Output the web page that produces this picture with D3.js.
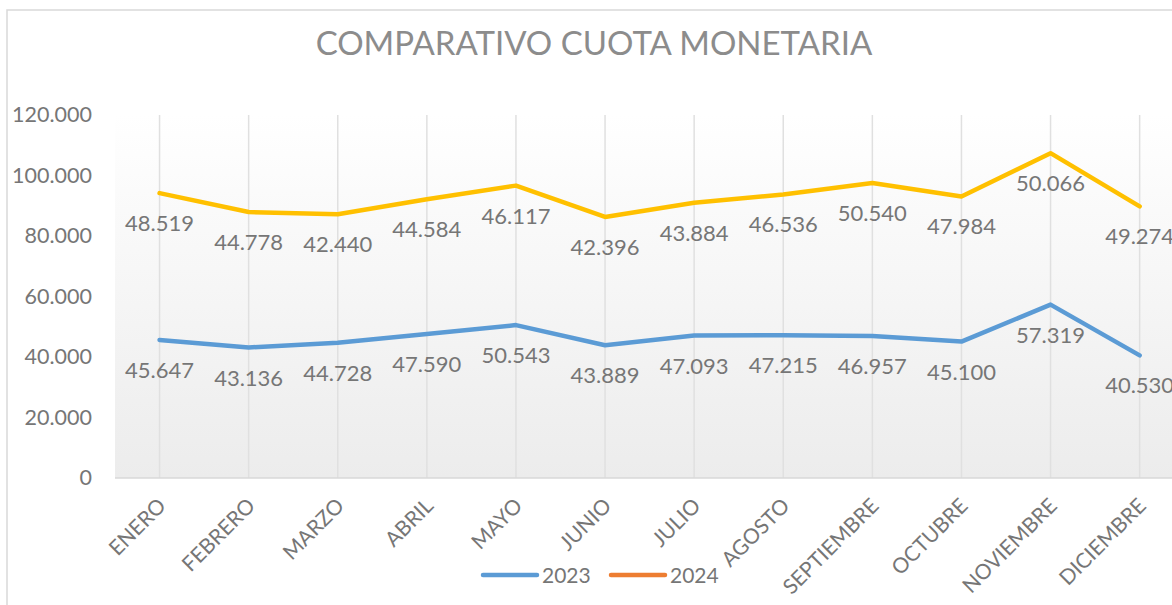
<!DOCTYPE html>
<html>
<head>
<meta charset="utf-8">
<script src="https://cdn.jsdelivr.net/npm/d3@7"></script>
<style>
  body { margin: 0; background: #fff; }
  svg { display: block; font-family: Lato, "Open Sans", sans-serif; }
</style>
</head>
<body>
<div id="chart"></div>
<script>
// chart data
var months = ["ENERO", "FEBRERO", "MARZO", "ABRIL", "MAYO", "JUNIO", "JULIO",
  "AGOSTO", "SEPTIEMBRE", "OCTUBRE", "NOVIEMBRE", "DICIEMBRE"];
var values2023 = [45647, 43136, 44728, 47590, 50543, 43889, 47093, 47215, 46957, 45100, 57319, 40530];
var values2024 = [48519, 44778, 42440, 44584, 46117, 42396, 43884, 46536, 50540, 47984, 50066, 49274];
var yTicks = [0, 20000, 40000, 60000, 80000, 100000, 120000];
var seriesNames = ["2023", "2024"];

var W = 1172, H = 605;
var svg = d3.select("#chart").append("svg").attr("width", W).attr("height", H);

// outer chart frame (runs off the right/bottom of the picture)
svg.append("rect")
  .attr("x", 7).attr("y", 10).attr("width", 1200).attr("height", 700)
  .attr("fill", "#fff").attr("stroke", "#d9d9d9").attr("stroke-width", 1.5);

// plot area, wider than the window, the last band is cut off like in the original
var plot = { left: 115, top: 115, bottom: 478, band: 89.1 };
plot.right = plot.left + plot.band * months.length;

var x = d3.scalePoint().domain(months).range([plot.left + plot.band / 2, plot.right - plot.band / 2]);
var y = d3.scaleLinear().domain([0, 120000]).range([plot.bottom, plot.top]);

// stacked line: 2024 sits on top of 2023
var stacked = values2023.map(function (v, i) { return v + values2024[i]; });

var defs = svg.append("defs");
var grad = defs.append("linearGradient").attr("id", "bg").attr("x1", 0).attr("y1", 0).attr("x2", 0).attr("y2", 1);
grad.append("stop").attr("offset", "0%").attr("stop-color", "#ffffff");
grad.append("stop").attr("offset", "100%").attr("stop-color", "#ececec");

svg.append("rect")
  .attr("x", plot.left).attr("y", plot.top)
  .attr("width", plot.right - plot.left).attr("height", plot.bottom - plot.top)
  .attr("fill", "url(#bg)");

// title
svg.append("text")
  .attr("x", 594).attr("y", 55)
  .attr("text-anchor", "middle")
  .attr("font-size", 33).attr("fill", "#8c8c8c")
  .text("COMPARATIVO CUOTA MONETARIA");

// vertical grid lines through the categories
svg.append("g").selectAll("line").data(months).enter().append("line")
  .attr("x1", function (d) { return x(d); }).attr("x2", function (d) { return x(d); })
  .attr("y1", plot.top).attr("y2", plot.bottom)
  .attr("stroke", "#e0e0e0").attr("stroke-width", 1.5);

// y axis (labels only)
var yAxis = svg.append("g")
  .attr("transform", "translate(" + (plot.left - 23) + ",0)")
  .call(d3.axisLeft(y).tickValues(yTicks).tickSize(0).tickPadding(0)
    .tickFormat(function (d) { return d === 0 ? "0" : d3.format(",")(d).replace(/,/g, "."); }));
yAxis.select(".domain").remove();
yAxis.selectAll("text").attr("font-size", 21.5).attr("fill", "#767676").attr("font-family", "Lato, sans-serif");

// x axis line + rotated labels
var xAxis = svg.append("g")
  .attr("transform", "translate(0," + plot.bottom + ")")
  .call(d3.axisBottom(x).tickSize(0).tickPadding(0));
xAxis.select(".domain").attr("stroke", "#d9d9d9").attr("stroke-width", 1.5)
  .attr("d", "M" + plot.left + ",0H" + plot.right);
xAxis.selectAll("text")
  .attr("font-size", 21).attr("fill", "#767676").attr("font-family", "Lato, sans-serif")
  .attr("text-anchor", "end").attr("dy", "0.35em")
  .attr("transform", "translate(2,24) rotate(-45)");

// lines
var line = d3.line()
  .x(function (d, i) { return x(months[i]); })
  .y(function (d) { return y(d); });

svg.append("path").datum(values2023)
  .attr("d", line).attr("fill", "none")
  .attr("stroke", "#5b9bd5").attr("stroke-width", 4.5)
  .attr("stroke-linejoin", "round").attr("stroke-linecap", "round");

svg.append("path").datum(stacked)
  .attr("d", line).attr("fill", "none")
  .attr("stroke", "#ffc000").attr("stroke-width", 4.5)
  .attr("stroke-linejoin", "round").attr("stroke-linecap", "round");

// data labels under each point (2024 shows its own value, not the stacked total)
var fmt = function (v) { return d3.format(",")(v).replace(/,/g, "."); };

function addLabels(pos, vals) {
  svg.append("g").selectAll("text").data(vals).enter().append("text")
    .attr("x", function (d, i) { return x(months[i]); })
    .attr("y", function (d, i) { return y(pos[i]) + 38; })
    .attr("text-anchor", "middle")
    .attr("font-size", 22).attr("fill", "#767676")
    .text(fmt);
}
addLabels(values2023, values2023);
addLabels(stacked, values2024);

// legend
var legendColors = ["#5b9bd5", "#ed7d31"];
var legendX = [483, 611];
var lg = svg.append("g").selectAll("g").data(seriesNames).enter().append("g")
  .attr("transform", function (d, i) { return "translate(" + legendX[i] + ",575)"; });
lg.append("line")
  .attr("x1", 0).attr("x2", 54).attr("y1", 0).attr("y2", 0)
  .attr("stroke", function (d, i) { return legendColors[i]; })
  .attr("stroke-width", 4.5).attr("stroke-linecap", "round");
lg.append("text")
  .attr("x", 59).attr("y", 7.5)
  .attr("font-size", 21).attr("fill", "#767676")
  .text(function (d) { return d; });
</script>
</body>
</html>
